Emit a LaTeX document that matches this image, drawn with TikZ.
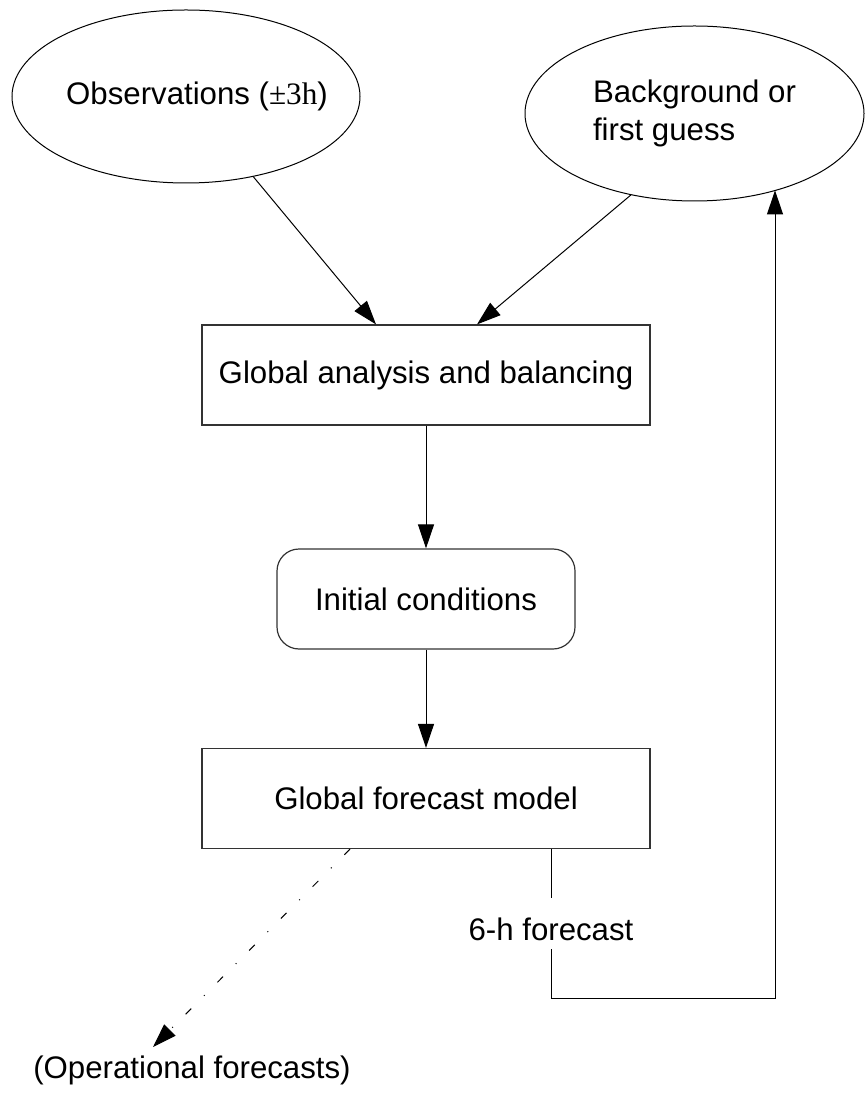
\documentclass[tikz,border=0pt]{standalone}
\usepackage{fontspec}
\setmainfont{Liberation Sans}
\newfontfamily\timesfont{Liberation Serif}
\usetikzlibrary{positioning,arrows.meta,calc,shapes.geometric}

\begin{document}
\begin{tikzpicture}[
  x=0.5pt, y=-0.5pt,
  font=\fontsize{15.6}{19}\selectfont,
  cloud/.style={draw, ellipse, inner sep=0pt, line width=.5pt},
  box/.style={draw=black!80, minimum width=224pt, minimum height=50pt, inner sep=0pt,
              line width=.6pt},
  roundbox/.style={box, rounded corners=11pt, minimum width=149pt},
  flow/.style={-{Triangle[length=12pt,width=8pt]}, line width=.5pt},
  feed/.style={line width=.5pt}
]
  \useasboundingbox (0,0) rectangle (864,1095);
  \node[cloud, minimum width=174pt, minimum height=86.5pt] (obs) at (186,96.5)
    {\makebox[0pt]{\hspace*{11pt}\raisebox{-6.5pt}{Observations ({\timesfont ±3h})}}};
  \node[cloud, minimum width=169.5pt, minimum height=87.5pt, align=left] (bg) at (694.5,113.5)
    {Background or\\first guess};
  \node[box] (analysis) at (426,375) {Global analysis and balancing};
  \node[roundbox] (init) at (426,599) {Initial conditions};
  \node[box] (model) at (426,798.5) {\raisebox{-5pt}{Global forecast model}};
  \node[inner xsep=2pt, inner ysep=4.5pt, text height=16.5pt, text depth=0pt] (six) at (551,923.5) {6-h forecast};
  \node (ops) at (192,1070) {(Operational forecasts)};
  \coordinate (turn) at (775,998);
  \coordinate (opstip) at (153,1047);
  \draw[flow] (obs.-50) -- ($(analysis.north)+(-50,0)$);
  \draw[flow] (bg.-128) -- ($(analysis.north)+(51,0)$);
  \draw[flow] (analysis) -- (init);
  \draw[flow] (init) -- (model);
  \draw[flow, dash pattern=on 4pt off 9pt on .5pt off 9pt] ($(model.south)+(-76,0)$) -- (opstip);
  \draw[feed] (model.south -| six.north) -- (six.north);
  \draw[flow] (six.south) |- (turn) -- (turn |- bg.-43.7);
\end{tikzpicture}
\end{document}
